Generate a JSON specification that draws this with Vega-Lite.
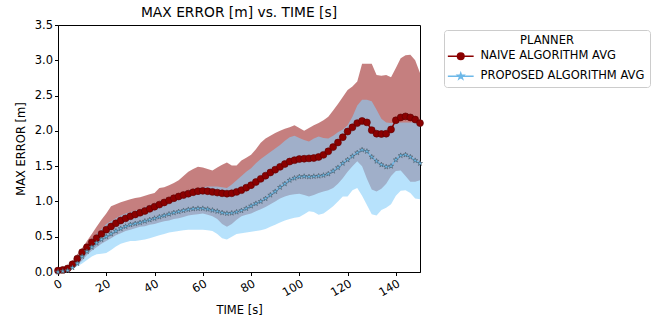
{
  "$schema": "https://vega.github.io/schema/vega-lite/v6.json",
  "autosize": {"type": "none"},
  "padding": {"left": 58, "top": 25, "right": 241, "bottom": 48},
  "width": 362,
  "height": 247,
  "background": "white",
  "view": {"stroke": "black", "strokeWidth": 1, "fill": "white"},
  "title": {"text": "MAX ERROR [m] vs. TIME [s]", "fontSize": 13.8, "fontWeight": "normal", "font": "DejaVu Sans", "offset": -1, "anchor": "middle", "color": "black"},
  "config": {
    "view": {"stroke": "black", "strokeWidth": 1},
    "axis": {"domainColor": "black", "tickColor": "black", "labelColor": "black", "titleColor": "black", "labelFont": "DejaVu Sans", "titleFont": "DejaVu Sans", "labelFontSize": 11.5, "titleFontSize": 11.5, "titleFontWeight": "normal", "grid": false, "tickSize": 3.5, "labelPadding": 2, "labelOverlap": false},
    "legend": {"labelFont": "DejaVu Sans", "titleFont": "DejaVu Sans", "labelColor": "black", "titleColor": "black"}
  },
  "data": {"values": [
    {"t":0,"nm":0.02,"nl":0,"nh":0.02,"pm":0,"pl":0,"ph":0.02},
    {"t":2,"nm":0.03,"nl":0.01,"nh":0.04,"pm":0.01,"pl":0,"ph":0.04},
    {"t":4,"nm":0.05,"nl":0.02,"nh":0.08,"pm":0.02,"pl":0.01,"ph":0.07},
    {"t":6,"nm":0.11,"nl":0.05,"nh":0.16,"pm":0.06,"pl":0.04,"ph":0.14},
    {"t":8,"nm":0.19,"nl":0.1,"nh":0.25,"pm":0.12,"pl":0.08,"ph":0.22},
    {"t":10,"nm":0.28,"nl":0.16,"nh":0.34,"pm":0.22,"pl":0.12,"ph":0.3},
    {"t":12,"nm":0.35,"nl":0.24,"nh":0.44,"pm":0.29,"pl":0.17,"ph":0.38},
    {"t":14,"nm":0.42,"nl":0.3,"nh":0.54,"pm":0.35,"pl":0.22,"ph":0.46},
    {"t":16,"nm":0.48,"nl":0.35,"nh":0.64,"pm":0.41,"pl":0.25,"ph":0.54},
    {"t":18,"nm":0.54,"nl":0.4,"nh":0.74,"pm":0.46,"pl":0.26,"ph":0.61},
    {"t":20,"nm":0.6,"nl":0.44,"nh":0.83,"pm":0.5,"pl":0.27,"ph":0.68},
    {"t":22,"nm":0.645,"nl":0.48,"nh":0.93,"pm":0.54,"pl":0.31,"ph":0.72},
    {"t":24,"nm":0.69,"nl":0.52,"nh":0.96,"pm":0.58,"pl":0.36,"ph":0.76},
    {"t":26,"nm":0.73,"nl":0.55,"nh":0.99,"pm":0.615,"pl":0.4,"ph":0.8},
    {"t":28,"nm":0.76,"nl":0.58,"nh":1.01,"pm":0.645,"pl":0.42,"ph":0.83},
    {"t":30,"nm":0.79,"nl":0.6,"nh":1.03,"pm":0.67,"pl":0.44,"ph":0.85},
    {"t":32,"nm":0.815,"nl":0.62,"nh":1.05,"pm":0.685,"pl":0.44,"ph":0.87},
    {"t":34,"nm":0.84,"nl":0.64,"nh":1.06,"pm":0.7,"pl":0.45,"ph":0.89},
    {"t":36,"nm":0.865,"nl":0.65,"nh":1.08,"pm":0.72,"pl":0.46,"ph":0.92},
    {"t":38,"nm":0.895,"nl":0.67,"nh":1.1,"pm":0.74,"pl":0.48,"ph":0.95},
    {"t":40,"nm":0.925,"nl":0.68,"nh":1.12,"pm":0.76,"pl":0.5,"ph":0.97},
    {"t":42,"nm":0.955,"nl":0.7,"nh":1.19,"pm":0.78,"pl":0.52,"ph":1.0},
    {"t":44,"nm":0.985,"nl":0.72,"nh":1.2,"pm":0.8,"pl":0.54,"ph":1.03},
    {"t":46,"nm":1.015,"nl":0.73,"nh":1.23,"pm":0.82,"pl":0.56,"ph":1.06},
    {"t":48,"nm":1.045,"nl":0.75,"nh":1.26,"pm":0.84,"pl":0.57,"ph":1.08},
    {"t":50,"nm":1.07,"nl":0.76,"nh":1.3,"pm":0.855,"pl":0.58,"ph":1.1},
    {"t":52,"nm":1.09,"nl":0.78,"nh":1.36,"pm":0.87,"pl":0.59,"ph":1.13},
    {"t":54,"nm":1.11,"nl":0.8,"nh":1.42,"pm":0.885,"pl":0.6,"ph":1.16},
    {"t":56,"nm":1.13,"nl":0.81,"nh":1.46,"pm":0.895,"pl":0.6,"ph":1.18},
    {"t":58,"nm":1.145,"nl":0.82,"nh":1.49,"pm":0.9,"pl":0.6,"ph":1.19},
    {"t":60,"nm":1.15,"nl":0.83,"nh":1.48,"pm":0.9,"pl":0.6,"ph":1.2},
    {"t":62,"nm":1.145,"nl":0.81,"nh":1.46,"pm":0.89,"pl":0.59,"ph":1.21},
    {"t":64,"nm":1.135,"nl":0.79,"nh":1.44,"pm":0.875,"pl":0.58,"ph":1.21},
    {"t":66,"nm":1.125,"nl":0.75,"nh":1.48,"pm":0.86,"pl":0.54,"ph":1.21},
    {"t":68,"nm":1.115,"nl":0.68,"nh":1.52,"pm":0.84,"pl":0.48,"ph":1.2},
    {"t":70,"nm":1.11,"nl":0.64,"nh":1.55,"pm":0.83,"pl":0.46,"ph":1.19},
    {"t":72,"nm":1.115,"nl":0.68,"nh":1.51,"pm":0.835,"pl":0.5,"ph":1.24},
    {"t":74,"nm":1.135,"nl":0.74,"nh":1.51,"pm":0.85,"pl":0.54,"ph":1.3},
    {"t":76,"nm":1.16,"nl":0.79,"nh":1.58,"pm":0.87,"pl":0.55,"ph":1.36},
    {"t":78,"nm":1.195,"nl":0.81,"nh":1.62,"pm":0.9,"pl":0.56,"ph":1.42},
    {"t":80,"nm":1.23,"nl":0.83,"nh":1.66,"pm":0.935,"pl":0.57,"ph":1.47},
    {"t":82,"nm":1.275,"nl":0.86,"nh":1.74,"pm":0.97,"pl":0.58,"ph":1.54},
    {"t":84,"nm":1.32,"nl":0.89,"nh":1.83,"pm":1.0,"pl":0.59,"ph":1.6},
    {"t":86,"nm":1.365,"nl":0.92,"nh":1.89,"pm":1.04,"pl":0.61,"ph":1.65},
    {"t":88,"nm":1.41,"nl":0.96,"nh":1.93,"pm":1.09,"pl":0.64,"ph":1.7},
    {"t":90,"nm":1.45,"nl":1.0,"nh":1.97,"pm":1.14,"pl":0.67,"ph":1.75},
    {"t":92,"nm":1.49,"nl":1.04,"nh":2.0,"pm":1.2,"pl":0.7,"ph":1.8},
    {"t":94,"nm":1.53,"nl":1.07,"nh":2.03,"pm":1.25,"pl":0.73,"ph":1.86},
    {"t":96,"nm":1.565,"nl":1.09,"nh":2.05,"pm":1.3,"pl":0.75,"ph":1.91},
    {"t":98,"nm":1.585,"nl":1.1,"nh":2.08,"pm":1.33,"pl":0.77,"ph":1.93},
    {"t":100,"nm":1.6,"nl":1.11,"nh":2.04,"pm":1.35,"pl":0.78,"ph":1.9},
    {"t":102,"nm":1.605,"nl":1.09,"nh":2.0,"pm":1.355,"pl":0.82,"ph":1.87},
    {"t":104,"nm":1.61,"nl":1.07,"nh":2.04,"pm":1.35,"pl":0.86,"ph":1.85},
    {"t":106,"nm":1.615,"nl":1.09,"nh":2.08,"pm":1.355,"pl":0.85,"ph":1.89},
    {"t":108,"nm":1.63,"nl":1.12,"nh":2.11,"pm":1.36,"pl":0.81,"ph":1.92},
    {"t":110,"nm":1.66,"nl":1.14,"nh":2.15,"pm":1.37,"pl":0.83,"ph":1.9},
    {"t":112,"nm":1.71,"nl":1.16,"nh":2.2,"pm":1.39,"pl":0.88,"ph":1.89},
    {"t":114,"nm":1.77,"nl":1.19,"nh":2.29,"pm":1.43,"pl":0.93,"ph":1.93},
    {"t":116,"nm":1.835,"nl":1.25,"nh":2.38,"pm":1.48,"pl":1.0,"ph":1.98},
    {"t":118,"nm":1.91,"nl":1.33,"nh":2.48,"pm":1.54,"pl":1.07,"ph":2.02},
    {"t":120,"nm":1.99,"nl":1.42,"nh":2.58,"pm":1.59,"pl":1.07,"ph":2.08},
    {"t":122,"nm":2.05,"nl":1.5,"nh":2.63,"pm":1.64,"pl":1.16,"ph":2.2},
    {"t":124,"nm":2.11,"nl":1.57,"nh":2.7,"pm":1.69,"pl":1.19,"ph":2.36},
    {"t":126,"nm":2.14,"nl":1.5,"nh":2.95,"pm":1.73,"pl":1.08,"ph":2.44},
    {"t":128,"nm":2.12,"nl":1.32,"nh":2.95,"pm":1.71,"pl":0.95,"ph":2.44},
    {"t":130,"nm":2.01,"nl":1.17,"nh":2.95,"pm":1.63,"pl":0.82,"ph":2.42},
    {"t":132,"nm":1.96,"nl":1.14,"nh":2.79,"pm":1.57,"pl":0.8,"ph":2.3},
    {"t":134,"nm":1.955,"nl":1.18,"nh":2.78,"pm":1.52,"pl":0.88,"ph":2.17},
    {"t":136,"nm":1.96,"nl":1.25,"nh":2.79,"pm":1.49,"pl":0.91,"ph":2.12},
    {"t":138,"nm":2.02,"nl":1.36,"nh":2.76,"pm":1.5,"pl":0.96,"ph":2.11},
    {"t":140,"nm":2.15,"nl":1.43,"nh":2.89,"pm":1.59,"pl":1.08,"ph":2.11},
    {"t":142,"nm":2.19,"nl":1.44,"nh":3.03,"pm":1.65,"pl":1.15,"ph":2.12},
    {"t":144,"nm":2.205,"nl":1.36,"nh":3.07,"pm":1.66,"pl":1.16,"ph":2.12},
    {"t":146,"nm":2.19,"nl":1.28,"nh":3.08,"pm":1.63,"pl":1.12,"ph":2.12},
    {"t":148,"nm":2.16,"nl":1.28,"nh":3.0,"pm":1.58,"pl":1.04,"ph":2.13},
    {"t":150,"nm":2.11,"nl":1.3,"nh":2.82,"pm":1.54,"pl":1.03,"ph":2.13}
  ]},
  "encoding": {
    "x": {"field": "t", "type": "quantitative", "scale": {"domain": [0, 150], "nice": false, "zero": false}, "axis": {"values": [0, 20, 40, 60, 80, 100, 120, 140], "labelAngle": -30, "labelAlign": "right", "labelBaseline": "top", "title": "TIME [s]", "titlePadding": 6}}
  },
  "layer": [
    {
      "mark": {"type": "area", "color": "#8B0000", "opacity": 0.5},
      "encoding": {
        "y": {"field": "nl", "type": "quantitative", "scale": {"domain": [0, 3.5], "nice": false}, "axis": {"values": [0, 0.5, 1, 1.5, 2, 2.5, 3, 3.5], "format": ".1f", "title": "MAX ERROR [m]", "titlePadding": 8, "labelOverlap": false}},
        "y2": {"field": "nh"}
      }
    },
    {
      "mark": {"type": "area", "color": "#87CEFA", "opacity": 0.6},
      "encoding": {
        "y": {"field": "pl", "type": "quantitative", "axis": {"values": [0, 0.5, 1, 1.5, 2, 2.5, 3, 3.5], "format": ".1f", "title": "MAX ERROR [m]", "titlePadding": 8, "labelOverlap": false}},
        "y2": {"field": "ph"}
      }
    },
    {
      "transform": [{"fold": ["nm", "pm"], "as": ["p", "m"]}],
      "mark": {"type": "line", "strokeWidth": 1.5},
      "encoding": {
        "y": {"field": "m", "type": "quantitative", "axis": {"values": [0, 0.5, 1, 1.5, 2, 2.5, 3, 3.5], "format": ".1f", "title": "MAX ERROR [m]", "titlePadding": 8, "labelOverlap": false}},
        "detail": {"field": "p", "type": "nominal"},
        "stroke": {"condition": {"test": "datum.p === 'nm'", "value": "#8B0000"}, "value": "#6DB8E8"}
      }
    },
    {
      "transform": [{"fold": ["nm", "pm"], "as": ["p", "m"]}],
      "mark": {"type": "point", "filled": true, "opacity": 1, "strokeWidth": 0.6},
      "encoding": {
        "y": {"field": "m", "type": "quantitative", "axis": {"values": [0, 0.5, 1, 1.5, 2, 2.5, 3, 3.5], "format": ".1f", "title": "MAX ERROR [m]", "titlePadding": 8, "labelOverlap": false}},
        "fill": {"condition": {"test": "datum.p === 'nm'", "value": "#8B0000"}, "value": "#6EC1F0"},
        "shape": {"condition": {"test": "datum.p === 'nm'", "value": "circle"}, "value": "M0,-1L0.2245,-0.309L0.951,-0.309L0.363,0.118L0.588,0.809L0,0.382L-0.588,0.809L-0.363,0.118L-0.951,-0.309L-0.2245,-0.309Z"},
        "size": {"condition": {"test": "datum.p === 'nm'", "value": 48}, "value": 28},
        "stroke": {"condition": {"test": "datum.p === 'nm'", "value": "#5a0000"}, "value": "#4a5560"}
      }
    },
    {
      "transform": [{"fold": ["nm", "pm"], "as": ["p", "m"]}],
      "mark": {"type": "point", "filled": true, "opacity": 0, "strokeWidth": 1.5, "size": 36},
      "encoding": {
        "y": {"field": "m", "type": "quantitative", "axis": {"values": [0, 0.5, 1, 1.5, 2, 2.5, 3, 3.5], "format": ".1f", "title": "MAX ERROR [m]", "titlePadding": 8, "labelOverlap": false}},
        "fill": {"field": "p", "type": "nominal", "title": "PLANNER", "scale": {"domain": ["nm", "pm"], "range": ["#8B0000", "#6EC1F0"]},
          "legend": {
            "orient": "none", "legendX": 386, "legendY": 5,
            "titleAnchor": "middle", "titleFontWeight": "normal", "titleFontSize": 11.5, "labelFontSize": 11.5, "labelLimit": 400,
            "labelExpr": "datum.value === 'nm' ? 'NAIVE ALGORITHM AVG' : 'PROPOSED ALGORITHM AVG'",
            "strokeColor": "#cccccc", "fillColor": "white", "cornerRadius": 3, "padding": 5,
            "symbolSize": 36, "symbolOffset": 6, "symbolOpacity": 1, "symbolStrokeWidth": 1.5, "labelOffset": 14, "rowPadding": 6, "titlePadding": 4
          }},
        "stroke": {"field": "p", "type": "nominal", "title": "PLANNER", "scale": {"domain": ["nm", "pm"], "range": ["#8B0000", "#6DB8E8"]}},
        "shape": {"field": "p", "type": "nominal", "title": "PLANNER", "scale": {"domain": ["nm", "pm"], "range": ["M-4.3,0L4.3,0M1.1,0A1.1,1.1 0 1 1 -1.1,0A1.1,1.1 0 1 1 1.1,0M0.65,0A0.65,0.65 0 1 1 -0.65,0A0.65,0.65 0 1 1 0.65,0M0.25,0A0.25,0.25 0 1 1 -0.25,0A0.25,0.25 0 1 1 0.25,0", "M-4.3,0L4.3,0M0,-1L0.2245,-0.309L0.951,-0.309L0.363,0.118L0.588,0.809L0,0.382L-0.588,0.809L-0.363,0.118L-0.951,-0.309L-0.2245,-0.309Z"]}}
      }
    }
  ]
}
